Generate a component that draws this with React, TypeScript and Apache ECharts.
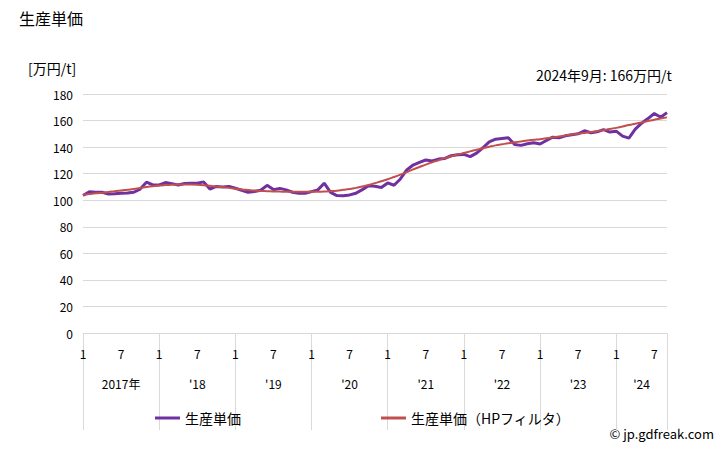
import React, { useEffect, useRef } from "react";
import * as echarts from "echarts";

const years = [2017, 2018, 2019, 2020, 2021, 2022, 2023, 2024];
const yearLabels = ["2017年", "'18", "'19", "'20", "'21", "'22", "'23", "'24"];
const monthsInLastYear = 9;

const unitPrice = [
  103.5, 106.4, 106.0, 106.0, 104.7, 104.8, 105.2, 105.5, 106.0, 108.4, 113.6, 111.5,
  111.5, 113.3, 112.5, 111.5, 112.6, 112.8, 112.8, 113.8, 108.4, 110.4, 110.0, 110.4,
  109.0, 107.5, 106.0, 106.5, 107.5, 111.2, 108.0, 108.9, 107.8, 106.0, 105.3, 105.2,
  106.5, 107.8, 112.8, 105.9, 103.5, 103.4, 104.0, 105.2, 108.0, 110.9, 110.5, 109.6,
  113.0, 111.3, 116.0, 122.8, 126.5, 128.5, 130.3, 129.5, 131.0, 131.5, 133.5, 134.3,
  134.5, 132.8, 135.5, 139.5, 144.0, 146.0, 146.5, 147.0, 142.0, 141.3, 142.5, 143.3,
  142.3, 145.0, 147.5, 147.0, 148.5, 149.3, 150.0, 152.3, 150.8, 151.5, 153.2, 151.3,
  152.0, 148.3, 146.8, 153.5, 158.0, 161.5, 165.3, 162.5, 166.0,
];

const unitPriceHP = [
  104.0, 104.6, 105.2, 105.7, 106.2, 106.8, 107.3, 107.9, 108.5, 109.2, 110.0, 110.6,
  111.0, 111.4, 111.7, 111.9, 111.9, 111.8, 111.6, 111.3, 110.9, 110.4, 109.9, 109.3,
  108.6, 108.1, 107.7, 107.3, 107.0, 106.8, 106.6, 106.5, 106.4, 106.4, 106.3, 106.3,
  106.3, 106.4, 106.5, 106.8, 107.2, 107.8, 108.4, 109.3, 110.3, 111.5, 112.9, 114.3,
  115.8, 117.5, 119.3, 121.2, 123.2, 125.0, 126.8, 128.5, 130.1, 131.7, 133.1, 134.4,
  135.6, 136.8, 138.0, 139.2, 140.3, 141.3, 142.1, 142.9, 143.6, 144.3, 145.0, 145.5,
  146.0, 146.6, 147.3, 148.0, 148.8, 149.5, 150.1, 150.7, 151.3, 152.0, 152.8, 153.6,
  154.5, 155.5, 156.6, 157.6, 158.6, 159.6, 160.6, 161.5, 162.4,
];

const seriesNames = ["生産単価", "生産単価（HPフィルタ）"];
const yTicks = { min: 0, max: 180, interval: 20 };

const categories: string[] = [];
years.forEach((y, i) => {
  const n = i === years.length - 1 ? monthsInLastYear : 12;
  for (let m = 1; m <= n; m++) categories.push(`${y}-${m}`);
});

const FONT = "'Noto Sans CJK JP', 'Noto Sans', sans-serif";

export default function App() {
  const ref = useRef<HTMLDivElement>(null);
  useEffect(() => {
    if (!ref.current) return;
    const chart = echarts.init(ref.current, null, { renderer: "svg" });
    const last = categories.length - 1;
    const yearLabelIndex: Record<number, string> = {};
    years.forEach((y, i) => {
      const start = i * 12;
      const n = i === years.length - 1 ? monthsInLastYear : 12;
      const mid = i === years.length - 1 ? start + Math.round(n / 2) - 1 : start + 6;
      yearLabelIndex[mid] = yearLabels[i];
    });
    chart.setOption({
      animation: false,
      textStyle: { fontFamily: FONT },
      title: {
        text: "生産単価",
        left: 14,
        top: 5,
        textStyle: { fontSize: 16, fontWeight: "normal", color: "#000", fontFamily: FONT },
      },
      grid: { left: 83, right: 61, top: 94, bottom: 117, containLabel: false },
      legend: {
        left: 150,
        top: 406,
        itemWidth: 25,
        itemHeight: 3,
        itemGap: 140,
        icon: "rect",
        textStyle: { fontSize: 14, color: "#000", fontFamily: FONT },
        data: seriesNames,
      },
      graphic: [
        {
          type: "text",
          left: 28,
          top: 61,
          style: { text: "[万円/t]", fontSize: 14, fill: "#000", fontFamily: FONT },
        },
        {
          type: "text",
          right: 56,
          top: 68,
          style: { text: "2024年9月: 166万円/t", fontSize: 14, fill: "#000", fontFamily: FONT },
        },
        {
          type: "text",
          right: 14,
          top: 427,
          style: { text: "© jp.gdfreak.com", fontSize: 13, fill: "#000", fontFamily: FONT },
        },
      ],
      xAxis: [
        {
          type: "category",
          data: categories,
          boundaryGap: false,
          axisLine: { show: true, lineStyle: { color: "#D9D9D9", width: 1 } },
          axisTick: {
            show: true,
            length: 97,
            interval: (idx: number) => idx % 12 === 0 || idx === last,
            lineStyle: { color: "#D9D9D9", width: 1 },
          },
          axisLabel: {
            interval: (idx: number) => idx % 12 === 0 || idx % 12 === 6,
            formatter: (v: string) => v.split("-")[1],
            color: "#000",
            fontSize: 12,
            margin: 14,
            fontFamily: FONT,
          },
          splitLine: { show: false },
        },
        {
          type: "category",
          data: categories,
          boundaryGap: false,
          position: "bottom",
          offset: 30,
          axisLine: { show: false },
          axisTick: { show: false },
          axisLabel: {
            interval: (idx: number) => yearLabelIndex[idx] !== undefined,
            formatter: (_v: string, idx: number) => yearLabelIndex[idx] ?? "",
            color: "#000",
            fontSize: 12,
            margin: 14,
            fontFamily: FONT,
          },
        },
      ],
      yAxis: {
        type: "value",
        min: yTicks.min,
        max: yTicks.max,
        interval: yTicks.interval,
        axisLine: { show: false },
        axisTick: { show: false },
        axisLabel: { color: "#000", fontSize: 12, margin: 10, fontFamily: FONT },
        splitLine: { lineStyle: { color: "#D9D9D9", width: 1 } },
      },
      series: [
        {
          name: seriesNames[0],
          type: "line",
          data: unitPrice,
          xAxisIndex: 0,
          symbol: "none",
          lineStyle: { color: "#7030A0", width: 3 },
          itemStyle: { color: "#7030A0" },
          z: 2,
        },
        {
          name: seriesNames[1],
          type: "line",
          data: unitPriceHP,
          xAxisIndex: 0,
          symbol: "none",
          smooth: true,
          lineStyle: { color: "#C0504D", width: 2 },
          itemStyle: { color: "#C0504D" },
          z: 3,
        },
      ],
    });
    return () => chart.dispose();
  }, []);
  return <div ref={ref} style={{ width: 728, height: 450, position: "absolute", left: 0, top: 0 }} />;
}
